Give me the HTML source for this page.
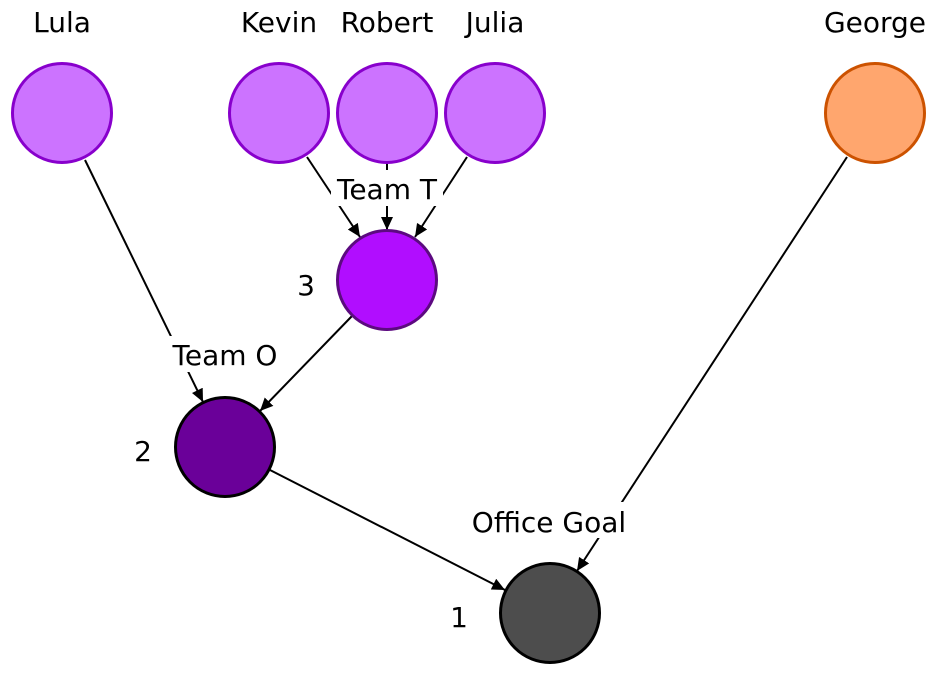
<!DOCTYPE html>
<html><head><meta charset="utf-8"><style>
html,body{margin:0;padding:0;background:#fff;}
</style></head><body>
<svg width="938" height="677" viewBox="0 0 938 677" xmlns="http://www.w3.org/2000/svg">
<defs><marker id="a" markerWidth="14" markerHeight="12" refX="13" refY="6" orient="auto" markerUnits="userSpaceOnUse"><path d="M0,0 L13,6 L0,12 z" fill="#000"/></marker></defs>
<g stroke="#000" stroke-width="2" fill="none" marker-end="url(#a)">
<line x1="85" y1="160" x2="203" y2="402"/>
<line x1="307" y1="157" x2="360" y2="237"/>
<line x1="387" y1="163" x2="387" y2="230"/>
<line x1="467" y1="157" x2="415" y2="237"/>
<line x1="352" y1="316" x2="260" y2="411"/>
<line x1="270" y1="470" x2="505" y2="590"/>
<line x1="847" y1="157" x2="577" y2="571"/>
</g>
<rect x="331" y="170" width="112" height="36" fill="#fff"/>
<rect x="168" y="336" width="114" height="36" fill="#fff"/>
<rect x="468" y="502" width="160" height="36" fill="#fff"/>
<g stroke-width="3">
<circle cx="62" cy="113" r="49.5" fill="#cc73ff" stroke="#8800cc"/>
<circle cx="279" cy="113" r="49.5" fill="#cc73ff" stroke="#8800cc"/>
<circle cx="387" cy="113" r="49.5" fill="#cc73ff" stroke="#8800cc"/>
<circle cx="495" cy="113" r="49.5" fill="#cc73ff" stroke="#8800cc"/>
<circle cx="875" cy="113" r="49.5" fill="#ffa66e" stroke="#cc5200"/>
<circle cx="387" cy="280" r="49.5" fill="#b10dff" stroke="#5c0a80"/>
<circle cx="225" cy="447" r="49.5" fill="#6a0099" stroke="#000"/>
<circle cx="550" cy="613" r="49.5" fill="#4d4d4d" stroke="#000"/>
</g>
<g text-anchor="middle" font-family="DejaVu Sans, Liberation Sans, sans-serif" font-size="28" fill="#000">
<text x="62" y="32">Lula</text>
<text x="279" y="32">Kevin</text>
<text x="387" y="32">Robert</text>
<text x="495" y="32">Julia</text>
<text x="875" y="32">George</text>
<text x="387" y="199">Team T</text>
<text x="225" y="365">Team O</text>
<text x="549" y="532">Office Goal</text>
<text x="306" y="295">3</text>
<text x="143" y="461">2</text>
<text x="459" y="627">1</text>
</g>
</svg>
</body></html>
